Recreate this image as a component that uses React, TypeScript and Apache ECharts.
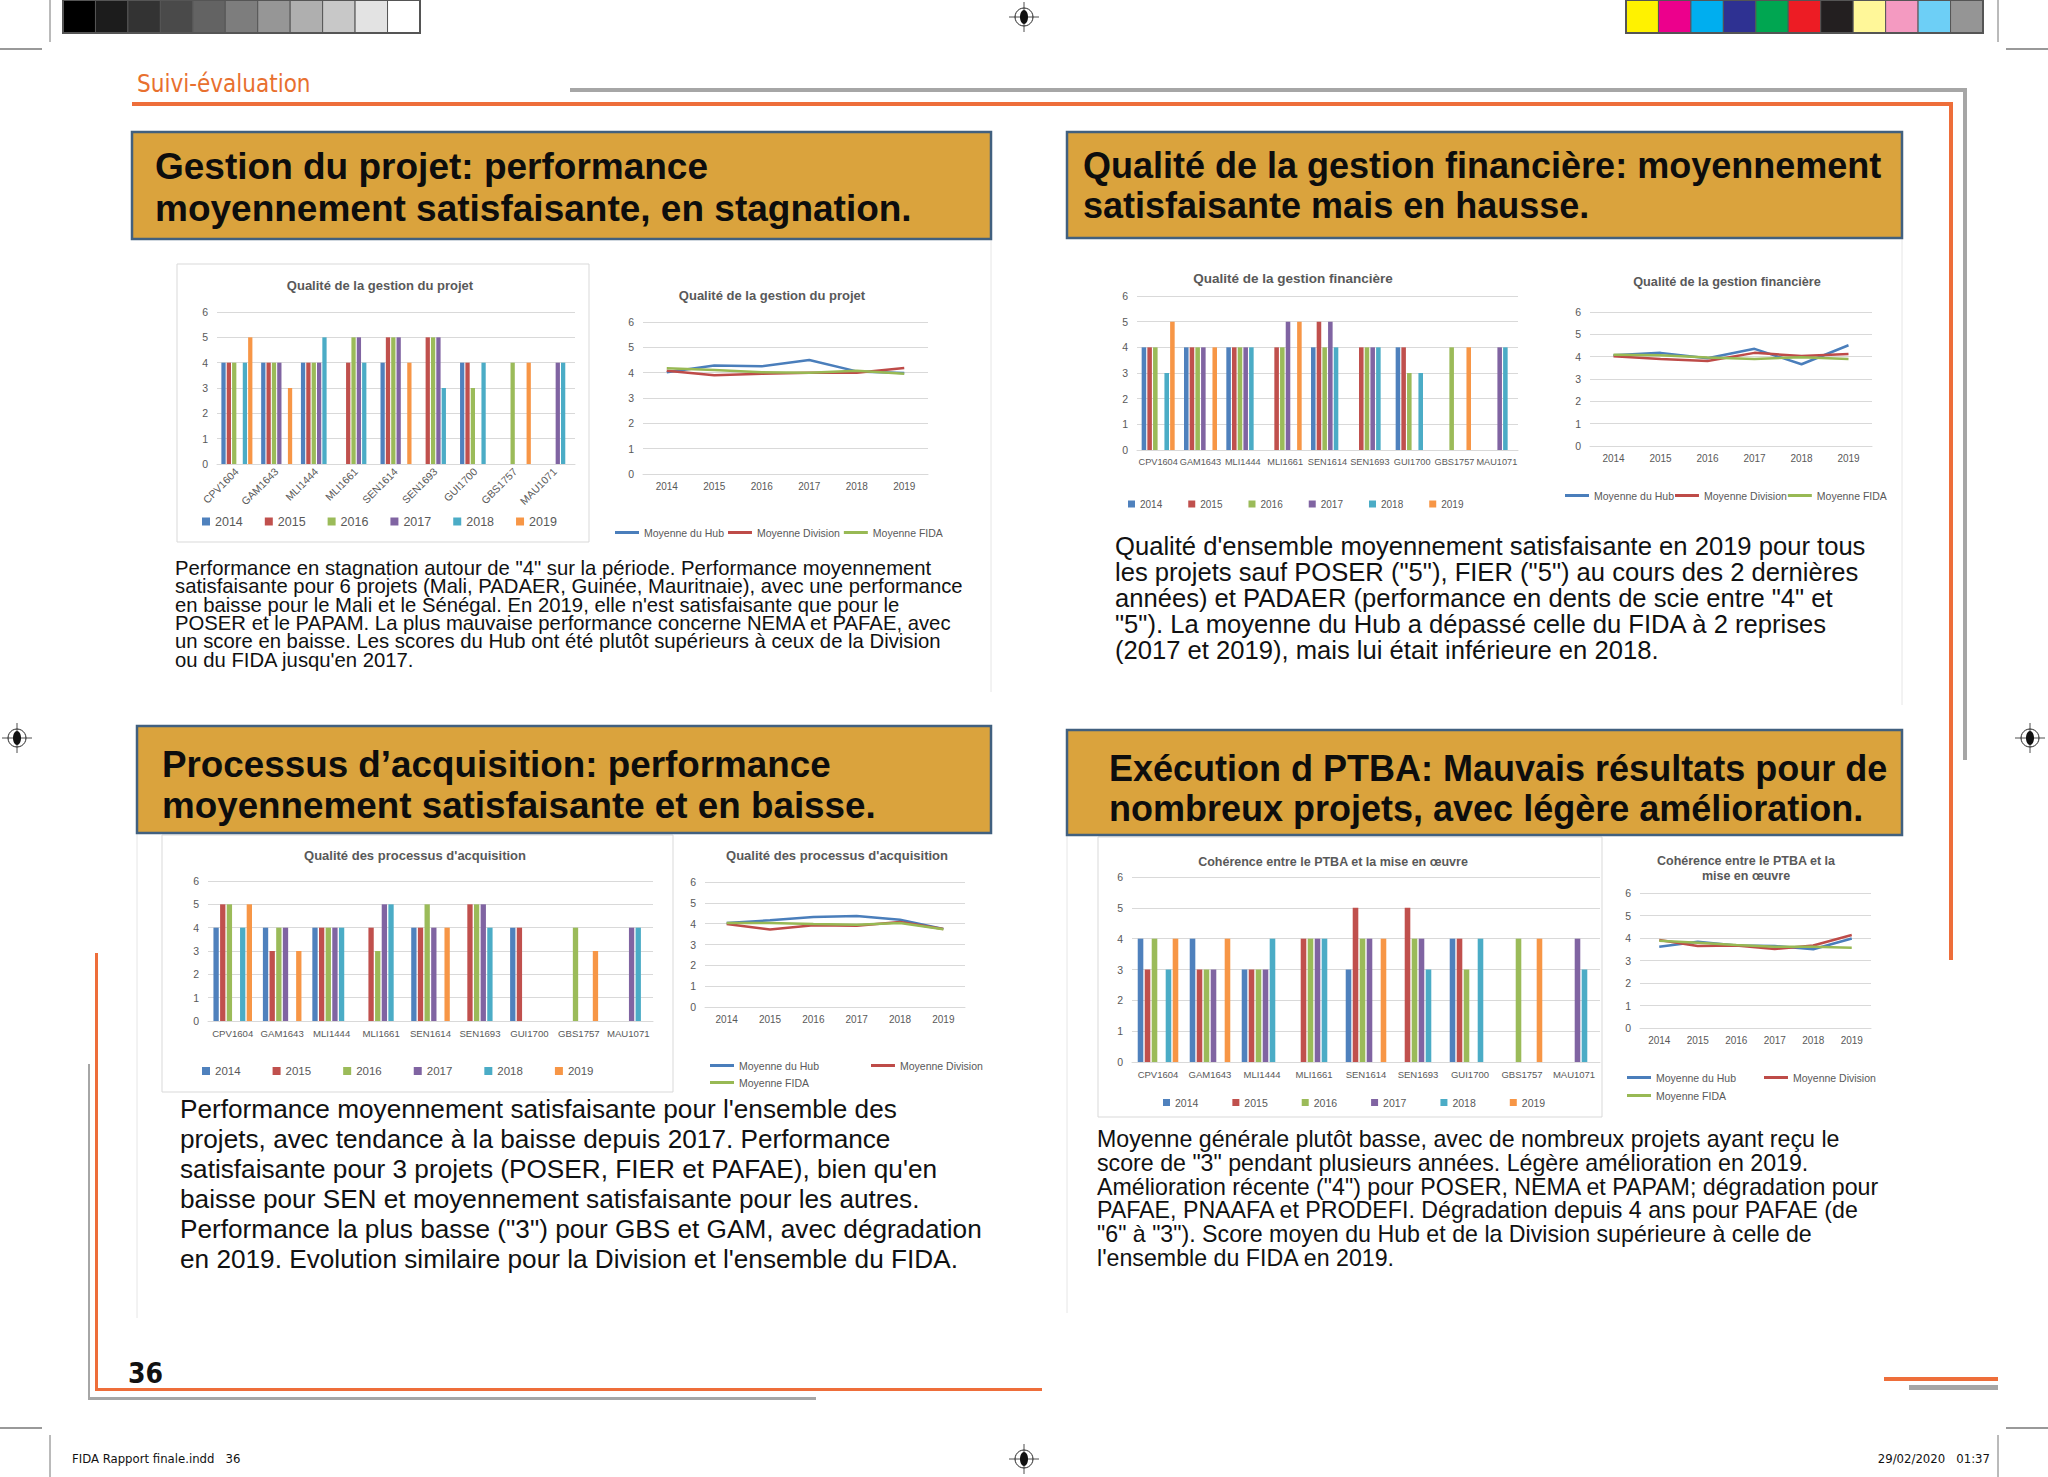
import React, { useEffect, useRef } from "react";
import * as echarts from "echarts";

// ---------- DATA ----------
const projects = ["CPV1604", "GAM1643", "MLI1444", "MLI1661", "SEN1614", "SEN1693", "GUI1700", "GBS1757", "MAU1071"];
const years = ["2014", "2015", "2016", "2017", "2018", "2019"];
const lineNames = ["Moyenne du Hub", "Moyenne Division", "Moyenne FIDA"];
const yTicks = [0, 6, 1]; // min, max, interval

// Qualité de la gestion du projet (rows = years, columns = projects)
const gestionProjet2014 = [4, 4, 4, null, 4, null, 4, null, null];
const gestionProjet2015 = [4, 4, 4, 4, 5, 5, 4, null, null];
const gestionProjet2016 = [4, 4, 4, 5, 5, 5, 3, 4, null];
const gestionProjet2017 = [null, 4, 4, 5, 5, 5, null, null, 4];
const gestionProjet2018 = [4, null, 5, 4, null, 3, 4, null, 4];
const gestionProjet2019 = [5, 3, null, null, 4, null, null, 4, null];
const gestionProjetHub = [4.02, 4.28, 4.25, 4.5, 4.05, 3.99];
const gestionProjetDivision = [4.08, 3.9, 3.96, 4.0, 4.0, 4.18];
const gestionProjetFida = [4.17, 4.11, 4.02, 4.0, 4.08, 3.96];

// Qualité de la gestion financière
const gestionFin2014 = [4, 4, 4, null, 4, null, 4, null, null];
const gestionFin2015 = [4, 4, 4, 4, 5, 4, 4, null, null];
const gestionFin2016 = [4, 4, 4, 4, 4, 4, 3, 4, null];
const gestionFin2017 = [null, 4, 4, 5, 5, 4, null, null, 4];
const gestionFin2018 = [3, null, 4, null, 4, 4, 3, null, 4];
const gestionFin2019 = [5, 4, null, 5, null, null, null, 4, null];
const gestionFinHub = [4.06, 4.17, 3.93, 4.35, 3.66, 4.51];
const gestionFinDivision = [4.02, 3.9, 3.81, 4.17, 4.03, 4.12];
const gestionFinFida = [4.09, 4.06, 3.96, 3.9, 3.97, 3.9];

// Qualité des processus d'acquisition
const acquisition2014 = [4, 4, 4, null, 4, null, 4, null, null];
const acquisition2015 = [5, 3, 4, 4, 4, 5, 4, null, null];
const acquisition2016 = [5, 4, 4, 3, 5, 5, null, 4, null];
const acquisition2017 = [null, 4, 4, 5, 4, 5, null, null, 4];
const acquisition2018 = [4, null, 4, 5, null, 4, null, null, 4];
const acquisition2019 = [5, 3, null, null, 4, null, null, 3, null];
const acquisitionHub = [4.03, 4.16, 4.32, 4.37, 4.19, 3.75];
const acquisitionDivision = [3.98, 3.72, 3.92, 3.9, 4.08, 3.74];
const acquisitionFida = [4.03, 4.03, 3.98, 3.95, 4.03, 3.73];

// Cohérence entre le PTBA et la mise en œuvre
const ptba2014 = [4, 4, 3, null, 3, null, 4, null, null];
const ptba2015 = [3, 3, 3, 4, 5, 5, 4, null, null];
const ptba2016 = [4, 3, 3, 4, 4, 4, 3, 4, null];
const ptba2017 = [null, 3, 3, 4, 4, 4, null, null, 4];
const ptba2018 = [3, null, 4, 4, null, 3, 4, null, 3];
const ptba2019 = [4, 4, null, null, 4, null, null, 4, null];
const ptbaHub = [3.61, 3.83, 3.67, 3.64, 3.5, 3.98];
const ptbaDivision = [3.91, 3.64, 3.67, 3.51, 3.67, 4.13];
const ptbaFida = [3.88, 3.79, 3.69, 3.61, 3.61, 3.57];

// Texts
const headerTopLeft = ["Gestion du projet: performance", "moyennement satisfaisante, en stagnation."];
const headerTopRight = ["Qualité de la gestion financière: moyennement", "satisfaisante mais en hausse."];
const headerBottomLeft = ["Processus d’acquisition: performance", "moyennement satisfaisante et en baisse."];
const headerBottomRight = ["Exécution d PTBA: Mauvais résultats pour de", "nombreux projets, avec légère amélioration."];

const paraTopLeft = [
  'Performance en stagnation autour de "4" sur la période. Performance moyennement',
  "satisfaisante pour 6 projets (Mali, PADAER, Guinée, Mauritnaie), avec une performance",
  "en baisse pour le Mali et le Sénégal. En 2019, elle n'est satisfaisante que pour le",
  "POSER et le PAPAM. La plus mauvaise performance concerne NEMA et PAFAE, avec",
  "un score en baisse. Les scores du Hub ont été plutôt supérieurs à ceux de la Division",
  "ou du FIDA jusqu'en 2017.",
];
const paraTopRight = [
  "Qualité d'ensemble moyennement satisfaisante en 2019 pour tous",
  'les projets sauf POSER ("5"), FIER ("5") au cours des 2 dernières',
  'années) et PADAER (performance en dents de scie entre "4" et',
  '"5"). La moyenne du Hub a dépassé celle du FIDA à 2 reprises',
  "(2017 et 2019), mais lui était inférieure en 2018.",
];
const paraBottomLeft = [
  "Performance moyennement satisfaisante pour l'ensemble des",
  "projets, avec tendance à la baisse depuis 2017. Performance",
  "satisfaisante pour 3 projets (POSER, FIER et PAFAE), bien qu'en",
  "baisse pour SEN et moyennement satisfaisante pour les autres.",
  'Performance la plus basse ("3") pour GBS et GAM, avec dégradation',
  "en 2019. Evolution similaire pour la Division et l'ensemble du FIDA.",
];
const paraBottomRight = [
  "Moyenne générale plutôt basse, avec de nombreux projets ayant reçu le",
  'score de "3" pendant plusieurs années. Légère amélioration en 2019.',
  'Amélioration récente ("4") pour POSER, NEMA et PAPAM; dégradation pour',
  "PAFAE, PNAAFA et PRODEFI. Dégradation depuis 4 ans pour PAFAE (de",
  '"6" à "3"). Score moyen du Hub et de la Division supérieure à celle de',
  "l'ensemble du FIDA en 2019.",
];

// ---------- STYLE ----------
const FONT = '"Liberation Sans", Arial, Helvetica, sans-serif';
const NARROW = '"Liberation Sans Narrow", "DejaVu Sans Condensed", "Liberation Sans", Arial, sans-serif';
const GREY_TXT = "#595959";
const GRID_C = "#D9D9D9";
const BAR_COLORS = ["#4F81BD", "#C0504D", "#9BBB59", "#8064A2", "#4BACC6", "#F79646"];
const LINE_COLORS = ["#4A7EBB", "#BE4B48", "#98B954"];
const ORANGE = "#EE6E3A";
const GREY_LINE = "#A6A6A6";
const GOLD = "#DAA33D";
const HEADER_BORDER = "#41607F";

function buildOption() {
  const barData = [
    [gestionProjet2014, gestionProjet2015, gestionProjet2016, gestionProjet2017, gestionProjet2018, gestionProjet2019],
    [gestionFin2014, gestionFin2015, gestionFin2016, gestionFin2017, gestionFin2018, gestionFin2019],
    [acquisition2014, acquisition2015, acquisition2016, acquisition2017, acquisition2018, acquisition2019],
    [ptba2014, ptba2015, ptba2016, ptba2017, ptba2018, ptba2019],
  ];
  const lineData = [
    [gestionProjetHub, gestionProjetDivision, gestionProjetFida],
    [gestionFinHub, gestionFinDivision, gestionFinFida],
    [acquisitionHub, acquisitionDivision, acquisitionFida],
    [ptbaHub, ptbaDivision, ptbaFida],
  ];

  // grid order: bar1, line1, bar2, line2, bar3, line3, bar4, line4
  const grids = [
    { left: 217, top: 312, width: 358, height: 152 },
    { left: 643, top: 322, width: 285, height: 152 },
    { left: 1137, top: 296, width: 381, height: 154 },
    { left: 1590, top: 312, width: 282, height: 134 },
    { left: 208, top: 881, width: 445, height: 140 },
    { left: 705, top: 882, width: 260, height: 125 },
    { left: 1132, top: 877, width: 468, height: 185 },
    { left: 1640, top: 893, width: 231, height: 135 },
  ];
  const barLabelCfg = [
    { rotate: 45, size: 10.5, margin: 6 },
    { rotate: 0, size: 9.2, margin: 7 },
    { rotate: 0, size: 9.6, margin: 7 },
    { rotate: 0, size: 9.5, margin: 7 },
  ];

  const xAxis: any[] = [];
  const yAxis: any[] = [];
  const series: any[] = [];

  grids.forEach((_, gi) => {
    const isBar = gi % 2 === 0;
    const cfg = isBar ? barLabelCfg[gi / 2] : { rotate: 0, size: 10, margin: 7 };
    xAxis.push({
      type: "category",
      gridIndex: gi,
      data: isBar ? projects : years,
      axisLine: { lineStyle: { color: GRID_C, width: 1 } },
      axisTick: { show: false },
      axisLabel: {
        interval: 0,
        rotate: cfg.rotate,
        margin: cfg.margin,
        fontSize: cfg.size,
        color: GREY_TXT,
        fontFamily: FONT,
      },
    });
    yAxis.push({
      type: "value",
      gridIndex: gi,
      min: yTicks[0],
      max: yTicks[1],
      interval: yTicks[2],
      axisLine: { show: false },
      axisTick: { show: false },
      splitLine: { lineStyle: { color: GRID_C, width: 1 } },
      axisLabel: { color: GREY_TXT, fontSize: 10.5, margin: 9, fontFamily: FONT },
    });
  });

  barData.forEach((rows, ci) => {
    const gi = ci * 2;
    rows.forEach((row, k) => {
      series.push({
        type: "bar",
        name: years[k],
        xAxisIndex: gi,
        yAxisIndex: gi,
        data: row,
        itemStyle: { color: BAR_COLORS[k] },
        barGap: "25%",
        barCategoryGap: "22%",
        silent: true,
      });
    });
  });
  lineData.forEach((rows, ci) => {
    const gi = ci * 2 + 1;
    rows.forEach((row, k) => {
      series.push({
        type: "line",
        name: lineNames[k],
        xAxisIndex: gi,
        yAxisIndex: gi,
        data: row,
        symbol: "none",
        lineStyle: { width: 2.5, color: LINE_COLORS[k] },
        itemStyle: { color: LINE_COLORS[k] },
        silent: true,
      });
    });
  });

  const titleStyle = (fs: number) => ({
    fontSize: fs,
    fontWeight: "bold",
    color: GREY_TXT,
    fontFamily: FONT,
    lineHeight: 14.5,
  });
  const mkTitle = (text: string, x: number, top: number, fs: number) => ({
    text,
    left: x,
    top,
    textAlign: "center",
    padding: 0,
    textStyle: titleStyle(fs),
  });
  const title = [
    mkTitle("Qualité de la gestion du projet", 380, 278, 13),
    mkTitle("Qualité de la gestion du projet", 772, 288, 13),
    mkTitle("Qualité de la gestion financière", 1293, 271, 13.5),
    mkTitle("Qualité de la gestion financière", 1727, 275, 12.7),
    mkTitle("Qualité des processus d'acquisition", 415, 848, 13),
    mkTitle("Qualité des processus d'acquisition", 837, 848, 13),
    mkTitle("Cohérence entre le PTBA et la mise en œuvre", 1333, 855, 12.5),
    mkTitle("Cohérence entre le PTBA et la\nmise en œuvre", 1746, 854, 12.5),
  ];

  const barLegend = (left: number, top: number, fs: number, sq: number, gap: number) => ({
    data: years,
    left,
    top,
    padding: 0,
    icon: "rect",
    itemWidth: sq,
    itemHeight: sq,
    itemGap: gap,
    selectedMode: false,
    textStyle: { fontSize: fs, color: GREY_TXT, fontFamily: FONT },
  });
  const lineLegend = (names: string[], left: number, top: number, gap: number) => ({
    data: names,
    left,
    top,
    padding: 0,
    icon: "rect",
    itemWidth: 24,
    itemHeight: 3,
    itemGap: gap,
    selectedMode: false,
    textStyle: { fontSize: 10.5, color: GREY_TXT, fontFamily: FONT },
  });
  const legend = [
    barLegend(202, 515, 12.5, 8, 22),
    barLegend(1128, 499, 10, 7, 26),
    barLegend(202, 1065, 11.5, 8, 32),
    barLegend(1163, 1097, 10.5, 7, 34),
    lineLegend(lineNames, 615, 527, 4),
    lineLegend(lineNames, 1565, 490, 1),
    lineLegend([lineNames[0], lineNames[1]], 710, 1060, 52),
    lineLegend([lineNames[2]], 710, 1077, 10),
    lineLegend([lineNames[0], lineNames[1]], 1627, 1072, 28),
    lineLegend([lineNames[2]], 1627, 1090, 10),
  ];

  // ---------- page decoration (graphic) ----------
  const g: any[] = [];
  const rect = (x: number, y: number, w: number, h: number, fill: string, extra: any = {}) => ({
    type: "rect",
    silent: true,
    shape: { x, y, width: w, height: h },
    style: { fill, ...extra },
  });
  const line = (x1: number, y1: number, x2: number, y2: number, stroke: string, lw = 1) => ({
    type: "line",
    silent: true,
    shape: { x1, y1, x2, y2 },
    style: { stroke, lineWidth: lw },
  });
  const text = (x: number, y: number, t: string, fs: number, opts: any = {}) => ({
    type: "text",
    silent: true,
    x,
    y,
    style: {
      text: t,
      fontSize: fs,
      fontFamily: FONT,
      fill: "#111",
      verticalAlign: "top",
      align: "left",
      ...opts,
    },
  });
  const regMark = (x: number, y: number) => ({
    type: "group",
    x,
    y,
    silent: true,
    children: [
      line(-15, 0, 15, 0, "#222", 0.8),
      line(0, -15, 0, 15, "#222", 0.8),
      { type: "circle", shape: { cx: 0, cy: 0, r: 9 }, style: { fill: "none", stroke: "#222", lineWidth: 1 } },
      { type: "ellipse", shape: { cx: 0, cy: 0, rx: 4, ry: 7 }, style: { fill: "#111" } },
    ],
  });

  // swatches
  const greys = ["#000000", "#1c1c1c", "#333333", "#4a4a4a", "#636363", "#7d7d7d", "#969696", "#afafaf", "#c8c8c8", "#e3e3e3", "#ffffff"];
  const colours = ["#FFF200", "#EC008C", "#00AEEF", "#2E3192", "#00A651", "#ED1C24", "#231F20", "#FFF799", "#F49AC1", "#6DCFF6", "#959595"];
  const sw = 357 / 11;
  greys.forEach((c, i) => g.push(rect(63 + i * sw, 0, sw, 33, c, { stroke: "#555", lineWidth: 1 })));
  colours.forEach((c, i) => g.push(rect(1626 + i * sw, 0, sw, 33, c, { stroke: "#555", lineWidth: 1 })));
  g.push(rect(63, 0, 357, 33, "none", { stroke: "#555", lineWidth: 2 }));
  g.push(rect(1626, 0, 357, 33, "none", { stroke: "#555", lineWidth: 2 }));

  // crop marks
  g.push(line(50, 0, 50, 42, "#777", 1));
  g.push(line(0, 49, 42, 49, "#999", 2));
  g.push(line(1998, 0, 1998, 42, "#777", 1));
  g.push(line(2006, 49, 2048, 49, "#999", 2));
  g.push(line(0, 1428, 42, 1428, "#999", 2));
  g.push(line(50, 1435, 50, 1477, "#777", 1));
  g.push(line(2006, 1428, 2048, 1428, "#999", 2));
  g.push(line(1998, 1435, 1998, 1477, "#777", 1));

  // registration marks
  g.push(regMark(1024, 17), regMark(17, 738), regMark(2030, 738), regMark(1024, 1459));

  // section title + frame lines
  g.push(text(137, 84, "Suivi-évaluation", 24, { fill: "#E8702F", fontFamily: NARROW, verticalAlign: "middle" }));
  g.push(rect(570, 88, 1397, 4, GREY_LINE));
  g.push(rect(1963, 88, 4, 672, GREY_LINE));
  g.push(rect(132, 102, 1821, 4, ORANGE));
  g.push(rect(1949, 102, 4, 858, ORANGE));
  g.push(rect(95, 953, 3, 438, ORANGE));
  g.push(rect(95, 1388, 947, 3, ORANGE));
  g.push(rect(88, 1064, 2, 336, GREY_LINE));
  g.push(rect(88, 1397, 728, 3, GREY_LINE));
  g.push(rect(1884, 1377, 114, 4, ORANGE));
  g.push(rect(1909, 1385, 89, 5, GREY_LINE));

  // faint panel borders
  g.push(line(991, 239, 991, 692, "#E6E6E6", 1));
  g.push(line(1902, 238, 1902, 705, "#E6E6E6", 1));
  g.push(line(137, 833, 137, 1318, "#E6E6E6", 1));
  g.push(line(1067, 835, 1067, 1313, "#E6E6E6", 1));

  // chart frames
  g.push(rect(177, 264, 412, 278, "none", { stroke: GRID_C, lineWidth: 1 }));
  g.push(rect(162, 835, 511, 257, "none", { stroke: GRID_C, lineWidth: 1 }));
  g.push(rect(1098, 837, 504, 280, "none", { stroke: GRID_C, lineWidth: 1 }));

  // header boxes
  const header = (x: number, y: number, w: number, h: number, tx: number, ty: number, lh: number, fs: number, lines: string[]) => {
    g.push(rect(x, y, w, h, GOLD, { stroke: HEADER_BORDER, lineWidth: 2.5 }));
    g.push(text(tx, ty, lines.join("\n"), fs, { fontWeight: "bold", lineHeight: lh, fill: "#0d0d0d" }));
  };
  header(132, 132, 859, 107, 155, 145, 42, 37, headerTopLeft);
  header(1067, 132, 835, 106, 1083, 145, 40, 36, headerTopRight);
  header(137, 726, 854, 107, 162, 743.5, 41, 36.8, headerBottomLeft);
  header(1067, 730, 835, 105, 1109, 748, 40, 36, headerBottomRight);

  // paragraphs
  g.push(text(175, 559, paraTopLeft.join("\n"), 20.3, { lineHeight: 18.3 }));
  g.push(text(1115, 533, paraTopRight.join("\n"), 25.6, { lineHeight: 26 }));
  g.push(text(180, 1094, paraBottomLeft.join("\n"), 26.2, { lineHeight: 30 }));
  g.push(text(1097, 1127, paraBottomRight.join("\n"), 23.2, { lineHeight: 23.8 }));

  // footer
  g.push(text(128, 1373, "36", 28, { fontWeight: "bold", fontFamily: NARROW, verticalAlign: "middle" }));
  g.push(text(72, 1458, "FIDA Rapport finale.indd   36", 13, { fontFamily: NARROW, verticalAlign: "middle" }));
  g.push(text(1990, 1458, "29/02/2020   01:37", 13, { fontFamily: NARROW, verticalAlign: "middle", align: "right" }));

  return {
    animation: false,
    backgroundColor: "#ffffff",
    title,
    legend,
    grid: grids.map((gr) => ({ ...gr, containLabel: false })),
    xAxis,
    yAxis,
    series,
    graphic: { elements: g },
  };
}

export default function App() {
  const ref = useRef<HTMLDivElement>(null);
  useEffect(() => {
    if (!ref.current) return;
    const chart = echarts.init(ref.current, null, { renderer: "svg" });
    chart.setOption(buildOption() as any);
    return () => chart.dispose();
  }, []);
  return (
    <div
      ref={ref}
      style={{ position: "absolute", left: 0, top: 0, width: 2048, height: 1477, background: "#fff" }}
    />
  );
}
